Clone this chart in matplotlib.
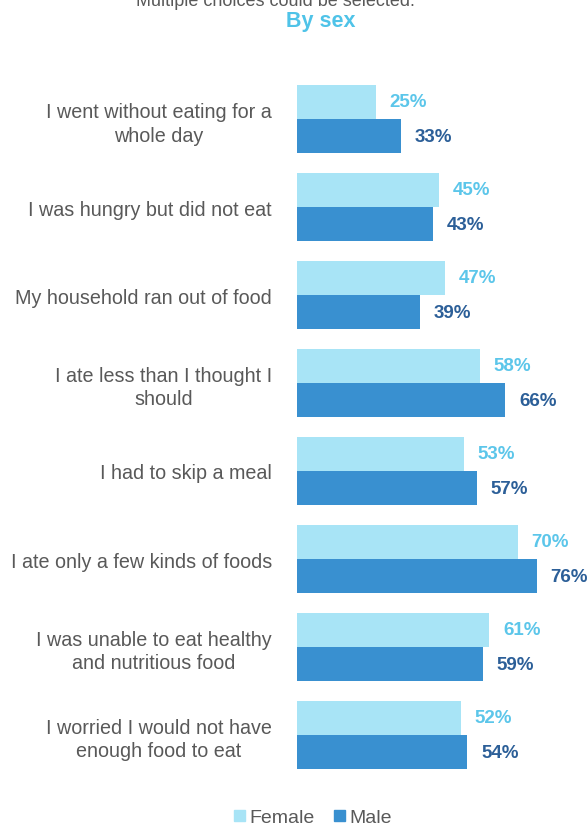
import matplotlib
matplotlib.use("Agg")
import matplotlib.pyplot as plt
from matplotlib.patches import Patch

categories = [
    "I went without eating for a\nwhole day",
    "I was hungry but did not eat",
    "My household ran out of food",
    "I ate less than I thought I\nshould",
    "I had to skip a meal",
    "I ate only a few kinds of foods",
    "I was unable to eat healthy\nand nutritious food",
    "I worried I would not have\nenough food to eat",
]
female = [25, 45, 47, 58, 53, 70, 61, 52]
male = [33, 43, 39, 66, 57, 76, 59, 54]

plt.rcParams['font.family'] = ['Liberation Sans', 'DejaVu Sans']

W, H = 587, 829
fig = plt.figure(figsize=(W / 100, H / 100), dpi=100)
ax = fig.add_axes([297 / W, (H - 780) / H, 290 / W, 704 / H])

c_f = "#a8e4f6"
c_m = "#3990d0"
t_f = "#5cc6ea"
t_m = "#2c5f98"

n = len(categories)
bh = 0.39
ys = list(range(n))
ax.barh([y - bh / 2 for y in ys], female, height=bh, color=c_f)
ax.barh([y + bh / 2 for y in ys], male, height=bh, color=c_m)

for y, f, m in zip(ys, female, male):
    ax.annotate(f"{f}%", (f, y - bh / 2), xytext=(10, 0), textcoords="offset points",
                va="center", ha="left", fontsize=13.5, fontweight="bold", color=t_f)
    ax.annotate(f"{m}%", (m, y + bh / 2), xytext=(10, 0), textcoords="offset points",
                va="center", ha="left", fontsize=13.5, fontweight="bold", color=t_m)

ax.set_ylim(n - 0.5, -0.5)
ax.set_xlim(0, 92)
ax.set_yticks(ys)
ax.set_yticklabels(categories, fontsize=14.2, color="#595959", linespacing=1.3,
                   multialignment="center")
ax.tick_params(axis="y", length=0, pad=18)
ax.set_xticks([])
for s in ax.spines.values():
    s.set_visible(False)

fig.text(275 / W, 1 - 1 / H, "Multiple choices could be selected.", ha="center", va="center",
         fontsize=13, color="#595959")
fig.text(321 / W, 1 - 22 / H, "By sex", ha="center", va="center", fontsize=15.5,
         fontweight="bold", color="#4fc3e8")

handles = [Patch(color=c_f, label="Female"), Patch(color=c_m, label="Male")]
fig.legend(handles=handles, loc="center", bbox_to_anchor=(313 / W, 1 - 819 / H), ncol=2,
           frameon=False, fontsize=14, handlelength=0.55, handleheight=0.55,
           handletextpad=0.25, columnspacing=1.0, labelcolor="#595959")

fig.savefig("out.png", dpi=100)
